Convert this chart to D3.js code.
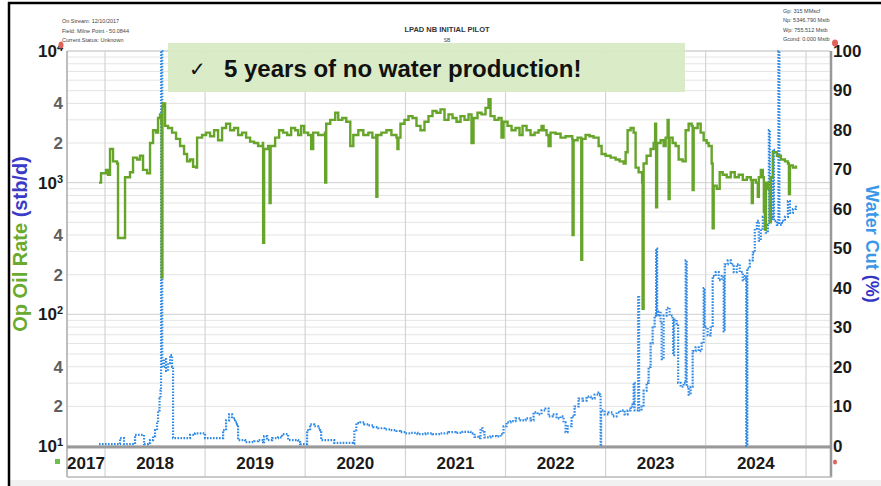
<!DOCTYPE html>
<html>
<head>
<meta charset="utf-8">
<script src="https://d3js.org/d3.v7.min.js"></script>
<style>
  body { margin: 0; background: #fff; }
  text { font-family: "Liberation Sans", Arial, sans-serif; }
</style>
</head>
<body>
<div id="chart"></div>
<script>

// oil rate (stb/d), dates as decimal years
const oilT = [2017.94,2017.96,2018.01,2018.03,2018.05,2018.08,2018.12,2018.13,2018.19,2018.20,2018.25,2018.28,2018.32,2018.35,2018.38,2018.42,2018.45,2018.48,2018.51,2018.53,2018.55,2018.563,2018.566,2018.57,2018.573,2018.58,2018.60,2018.63,2018.67,2018.71,2018.75,2018.79,2018.82,2018.85,2018.88,2018.91,2018.92,2018.97,
  2019.01,2019.05,2019.09,2019.13,2019.17,2019.21,2019.25,2019.29,2019.33,2019.37,2019.41,2019.45,2019.49,2019.53,2019.577,2019.58,2019.586,2019.59,2019.63,2019.645,2019.655,2019.70,2019.74,2019.78,2019.82,2019.86,2019.90,2019.93,2019.96,2019.99,
  2020.03,2020.06,2020.08,2020.13,2020.197,2020.20,2020.206,2020.21,2020.25,2020.30,2020.33,2020.37,2020.41,2020.45,2020.48,2020.53,2020.58,2020.63,2020.67,2020.707,2020.71,2020.716,2020.72,2020.76,2020.81,2020.86,2020.91,2020.92,2020.93,2020.95,2020.99,
  2021.03,2021.07,2021.11,2021.15,2021.19,2021.23,2021.27,2021.31,2021.35,2021.39,2021.43,2021.47,2021.51,2021.55,2021.59,2021.63,2021.66,2021.68,2021.72,2021.76,2021.80,2021.83,2021.85,2021.89,2021.93,2021.96,2021.98,
  2022.02,2022.06,2022.10,2022.14,2022.17,2022.21,2022.25,2022.29,2022.33,2022.36,2022.38,2022.41,2022.43,2022.45,2022.50,2022.55,2022.60,2022.667,2022.67,2022.676,2022.68,2022.72,2022.754,2022.757,2022.763,2022.766,2022.80,2022.84,2022.88,2022.93,2022.96,
  2023.00,2023.05,2023.10,2023.14,2023.18,2023.20,2023.22,2023.25,2023.28,2023.30,2023.33,2023.365,2023.37,2023.376,2023.38,2023.41,2023.45,2023.48,2023.495,2023.505,2023.515,2023.55,2023.58,2023.60,2023.62,2023.63,2023.64,2023.67,2023.70,2023.73,2023.77,2023.80,2023.83,2023.86,2023.87,2023.88,2023.92,2023.95,2023.98,
  2024.01,2024.03,2024.06,2024.07,2024.08,2024.11,2024.14,2024.17,2024.21,2024.25,2024.29,2024.33,2024.37,2024.41,2024.45,2024.46,2024.47,2024.50,2024.52,2024.53,2024.55,2024.57,2024.58,2024.59,2024.60,2024.62,2024.64,2024.65,2024.67,2024.71,2024.75,2024.79,2024.82,2024.83,2024.84,2024.87,2024.90];
const oilRate = [1000,1180,1250,1150,1800,1450,1400,380,380,1100,1200,1550,1500,1600,1250,1180,2000,2500,2400,3100,3300,2800,190,190,3800,4000,2700,2600,2400,2150,1900,1650,1450,1500,1320,1300,2200,2300,
  2400,2250,2500,2100,2600,2800,2500,2600,2300,2400,2200,2050,2000,1900,2000,350,350,1800,1900,700,1900,2200,2500,2400,2300,2600,2500,2300,2700,2400,
  2300,1800,2400,2300,2400,1000,1000,2800,3000,3400,3000,3100,2900,1900,2300,2500,2300,2400,2200,2300,780,780,2300,2400,2500,2300,2200,1800,2200,2800,3000,
  3200,3100,2700,2500,2900,3200,3500,3400,3600,3000,3300,3100,2900,3200,3000,3300,2000,3100,3400,3300,3700,4300,3200,3000,3100,2200,2900,
  2700,2500,2600,2300,2700,2500,2300,2400,2500,2700,2500,2300,1900,2400,2350,2200,2250,2150,400,400,2100,2200,2200,260,260,2150,2300,2250,2200,1900,1650,
  1600,1550,1500,1450,1400,1700,2500,2600,2400,1300,1200,1000,110,110,1400,1600,1800,2000,2800,650,2000,2100,1900,2200,3000,750,2200,2000,1900,1500,1450,2500,2800,2700,880,2600,2800,2400,2100,
  2000,1900,1400,450,950,900,1200,1150,1100,1200,1100,1150,1050,1100,1050,700,1050,1000,780,1100,1250,1100,600,440,1000,900,500,1100,1700,1600,1500,1450,1400,820,1350,1300,1350];

// water cut (%)
const wcT = [2017.94,2018.14,2018.15,2018.18,2018.19,2018.29,2018.30,2018.38,2018.39,2018.43,2018.45,2018.48,2018.50,2018.52,2018.53,2018.545,2018.555,2018.56,2018.568,2018.572,2018.59,2018.61,2018.63,2018.65,2018.67,2018.68,2018.73,2018.80,2018.85,2018.90,2018.95,
  2019.00,2019.07,2019.15,2019.18,2019.21,2019.24,2019.27,2019.30,2019.32,2019.33,2019.37,2019.40,2019.45,2019.49,2019.53,2019.58,2019.59,2019.61,2019.62,2019.67,2019.73,2019.77,2019.80,2019.83,2019.89,2019.93,2019.95,
  2020.00,2020.02,2020.05,2020.09,2020.13,2020.15,2020.16,2020.21,2020.27,2020.29,2020.40,2020.48,2020.49,2020.51,2020.55,2020.59,2020.63,2020.68,2020.73,2020.79,2020.85,2020.91,2020.95,
  2021.00,2021.05,2021.12,2021.20,2021.27,2021.35,2021.43,2021.50,2021.57,2021.65,2021.69,2021.73,2021.75,2021.77,2021.79,2021.85,2021.91,2021.95,2021.98,
  2022.01,2022.05,2022.10,2022.15,2022.20,2022.25,2022.28,2022.32,2022.36,2022.40,2022.43,2022.47,2022.51,2022.55,2022.58,2022.60,2022.62,2022.66,2022.69,2022.73,2022.77,2022.81,2022.85,2022.89,2022.93,2022.945,2022.95,2022.955,2022.99,
  2023.03,2023.07,2023.11,2023.15,2023.19,2023.22,2023.25,2023.27,2023.28,2023.29,2023.31,2023.325,2023.335,2023.36,2023.38,2023.41,2023.43,2023.45,2023.47,2023.49,2023.505,2023.515,2023.53,2023.55,2023.56,2023.58,2023.61,2023.64,2023.67,2023.675,2023.685,2023.71,2023.725,2023.75,2023.78,2023.80,2023.81,2023.83,2023.85,2023.87,2023.90,2023.93,2023.96,2023.98,2023.99,
  2024.02,2024.05,2024.07,2024.10,2024.13,2024.16,2024.18,2024.19,2024.22,2024.25,2024.28,2024.31,2024.34,2024.37,2024.39,2024.405,2024.415,2024.44,2024.47,2024.49,2024.51,2024.53,2024.55,2024.57,2024.59,2024.60,2024.62,2024.63,2024.64,2024.66,2024.67,2024.68,2024.71,2024.725,2024.735,2024.76,2024.79,2024.82,2024.84,2024.87,2024.90];
const waterCut = [0.5,0.5,2,2,0.5,0.5,2.8,2.8,0.5,0.8,1.5,2.5,4,6,9,12,14,100,100,20,22,19,21,23,20,2,2,2,2.8,3.2,3.2,
  2,2,2,4,6.5,8,7,6,5.5,1.5,1.5,1,1,1.2,1.5,1,2.5,2.5,1.5,2,2.2,3,3,1.5,1.5,1,0.5,
  0.5,4,5.5,5,4.5,4,1.5,1.5,1.5,0.8,0.8,0.6,4,5.8,6,5.5,5.2,4.8,4.5,4.2,4,3.8,3.5,
  3.2,3.3,3,3.2,3,3.2,3.5,3.3,3.6,3.2,2.3,2,4.5,3.5,2.2,2.5,2.4,3,5,
  6,6.3,7,6.5,7,6.5,8.5,8,9,9.5,7.5,8,7,7.5,6,3.5,5,7.5,10,12,11.5,12.5,12,13,13.5,13,0,9,8,
  8.5,7.5,8.5,9,8,9,10,11,16,9,9,38,9,10,14,16,20,26,30,33,50,33,34,31,22,33,35,33,32,23,32,31,16,15,16,47,15,13,15,24,25,24,26,40,30,
  28,30,43,44,42,43,29,46,47,46,44,46,44,42,43,0,45,47,49,55,57,52,55,58,62,54,56,80,57,58,75,57,56,100,56,57,58,62,59,60,61];

const years = ["2017","2018","2019","2020","2021","2022","2023","2024"];
const oilTicks = [10,20,40,100,200,400,1000,2000,4000,10000];
const wcTicks = [0,10,20,30,40,50,60,70,80,90,100];

const headerLeft = ["On Stream: 12/10/2017", "Field: Milne Point - 50.0844", "Current Status: Unknown"];
const headerRight = ["Gp: 315 MMscf", "Np: 5346.790 Mstb", "Wp: 755.512 Mstb", "Gcond: 0.000 Mstb"];

const width = 881, height = 486;
const plot = { left: 67, right: 830, top: 51, bottom: 446, band: 477 };
const green = "#66a42a", blue = "#2f8ae6";

function yr(t) {
  const y = Math.floor(t);
  const a = new Date(y, 0, 1), b = new Date(y + 1, 0, 1);
  return new Date(+a + (t - y) * (b - a));
}

const oil = oilT.map((t, i) => ({ date: yr(t), v: oilRate[i] }));
const wc = wcT.map((t, i) => ({ date: yr(t), v: waterCut[i] }));

const svg = d3.select("#chart").append("svg")
  .attr("width", width).attr("height", height);

const x = d3.scaleTime()
  .domain([yr(2017.62), yr(2025.24)])
  .range([plot.left, plot.right]);
const y = d3.scaleLog().domain([10, 10000]).range([plot.bottom, plot.top]);
const y2 = d3.scaleLinear().domain([0, 100]).range([plot.bottom, plot.top]);

// frame of the slide
svg.append("rect").attr("x", 10).attr("y", 480).attr("width", width).attr("height", 6).attr("fill", "#f1f1f1");
svg.append("line").attr("x1", 8).attr("x2", width).attr("y1", 3).attr("y2", 3).attr("stroke", "#000").attr("stroke-width", 2.5);
svg.append("line").attr("x1", 9).attr("x2", 9).attr("y1", 2).attr("y2", height).attr("stroke", "#000").attr("stroke-width", 2.5);

// grid
const grid = svg.append("g");
grid.selectAll(".hg").data(y.ticks()).enter().append("line")
  .attr("x1", plot.left).attr("x2", plot.right)
  .attr("y1", d => y(d)).attr("y2", d => y(d))
  .attr("stroke", d => Math.log10(d) % 1 === 0 ? "#cfcfcf" : "#e4e4e4")
  .attr("stroke-width", 1);
grid.selectAll(".vg").data(d3.timeYear.range(yr(2018), yr(2026))).enter().append("line")
  .attr("x1", d => x(d)).attr("x2", d => x(d))
  .attr("y1", plot.top).attr("y2", plot.band)
  .attr("stroke", "#d4d4d4").attr("stroke-width", 1.2);

// plot border + bottom band
const frame = svg.append("g").attr("fill", "none");
frame.append("line").attr("x1", plot.left).attr("x2", plot.right).attr("y1", plot.top).attr("y2", plot.top).attr("stroke", "#d0d0d0");
frame.append("line").attr("x1", plot.left).attr("x2", plot.left).attr("y1", plot.top).attr("y2", plot.band).attr("stroke", "#a8a8a8").attr("stroke-width", 1.5);
frame.append("line").attr("x1", plot.right + 1).attr("x2", plot.right + 1).attr("y1", plot.top).attr("y2", plot.band).attr("stroke", "#999").attr("stroke-width", 2.5);
frame.append("line").attr("x1", plot.left).attr("x2", plot.right + 2).attr("y1", plot.bottom + 1).attr("y2", plot.bottom + 1).attr("stroke", "#999").attr("stroke-width", 3);
frame.append("line").attr("x1", plot.left).attr("x2", plot.right + 2).attr("y1", plot.band).attr("y2", plot.band).attr("stroke", "#b8b8b8").attr("stroke-width", 1.5);

// series (daily production, drawn as steps)
svg.append("path").datum(wc)
  .attr("fill", "none").attr("stroke", blue).attr("stroke-width", 2.2)
  .attr("stroke-dasharray", "1.6 1.4")
  .attr("d", d3.line().curve(d3.curveStepAfter).x(d => x(d.date)).y(d => y2(d.v)));

svg.append("path").datum(oil)
  .attr("fill", "none").attr("stroke", green).attr("stroke-width", 2.4)
  .attr("d", d3.line().curve(d3.curveStepAfter).x(d => x(d.date)).y(d => y(d.v)));

// left axis
const la = svg.append("g").attr("transform", `translate(${plot.left - 4},0)`)
  .call(d3.axisLeft(y).tickValues(oilTicks).tickSize(0).tickPadding(0));
la.select(".domain").remove();
la.selectAll(".tick text").each(function(d) {
  const t = d3.select(this).text("").attr("font-weight", "bold").attr("font-size", 17);
  const e = Math.log10(d);
  if (e % 1 === 0) {
    t.attr("fill", "#1a1a1a");
    t.append("tspan").text("10");
    t.append("tspan").text(e).attr("font-size", 11).attr("dy", "-0.55em");
  } else {
    t.attr("fill", "#606060").text(d / Math.pow(10, Math.floor(e)));
  }
});

// right axis
const ra = svg.append("g").attr("transform", `translate(${plot.right + 3},0)`)
  .call(d3.axisRight(y2).tickValues(wcTicks).tickSize(0).tickPadding(0));
ra.select(".domain").remove();
ra.selectAll(".tick text").attr("font-size", 17).attr("font-weight", "bold").attr("fill", "#1a1a1a");

// year labels centred in each visible year
const yl = svg.append("g");
yl.selectAll("text").data(years).enter().append("text")
  .attr("x", d => {
    const a = Math.max(x(yr(+d)), plot.left), b = Math.min(x(yr(+d + 1)), plot.right);
    return (a + b) / 2;
  })
  .attr("y", 469).attr("text-anchor", "middle")
  .attr("font-size", 17).attr("font-weight", "bold").attr("fill", "#1a1a1a")
  .text(d => d);

// axis titles
const lt = svg.append("text").attr("transform", "translate(27,244) rotate(-90)")
  .attr("text-anchor", "middle").attr("font-size", 20).attr("font-weight", "bold");
lt.append("tspan").attr("fill", "#6aaa2c").text("Op Oil Rate ");
lt.append("tspan").attr("fill", "#3b3bc8").text("(stb/d)");

const rt = svg.append("text").attr("transform", "translate(866,244) rotate(90)")
  .attr("text-anchor", "middle").attr("font-size", 18).attr("font-weight", "bold");
rt.append("tspan").attr("fill", "#3c98e6").text("Water Cut ");
rt.append("tspan").attr("fill", "#3434c4").text("(%)");

// small header texts
svg.append("g").selectAll("text").data(headerLeft).enter().append("text")
  .attr("x", 62).attr("y", (d, i) => 23 + i * 9.5)
  .attr("font-size", 5.5).attr("fill", "#444").text(d => d);
svg.append("g").selectAll("text").data(headerRight).enter().append("text")
  .attr("x", 783).attr("y", (d, i) => 13 + i * 9.3)
  .attr("font-size", 5.5).attr("fill", "#444").text(d => d);
svg.append("text").attr("x", 447).attr("y", 32).attr("text-anchor", "middle")
  .attr("font-size", 7.5).attr("font-weight", "bold").attr("fill", "#333").text("LPAD NB INITIAL PILOT");
svg.append("text").attr("x", 447).attr("y", 42).attr("text-anchor", "middle")
  .attr("font-size", 5).attr("fill", "#444").text("SB");

// little markers at the axis ends
const mk = svg.append("g").attr("fill", "#e0625a");
mk.append("ellipse").attr("cx", 61).attr("cy", 45).attr("rx", 2.5).attr("ry", 3.5);
mk.append("ellipse").attr("cx", 835).attr("cy", 43).attr("rx", 3).attr("ry", 3.5);
mk.append("ellipse").attr("cx", 835).attr("cy", 462).attr("rx", 2).attr("ry", 2.5);
svg.append("rect").attr("x", 55).attr("y", 459).attr("width", 5).attr("height", 5).attr("fill", "#6bbf4a");

// callout box
svg.append("rect").attr("x", 168).attr("y", 43).attr("width", 517).attr("height", 49)
  .attr("fill", "#d7ebc4").attr("opacity", 0.95);
svg.append("text").attr("x", 189).attr("y", 76)
  .attr("font-family", "DejaVu Sans").attr("font-size", 20).attr("fill", "#111").text("\u2713");
svg.append("text").attr("x", 224).attr("y", 77)
  .attr("font-size", 24).attr("font-weight", "bold").attr("fill", "#111")
  .text("5 years of no water production!");

</script>
</body>
</html>
